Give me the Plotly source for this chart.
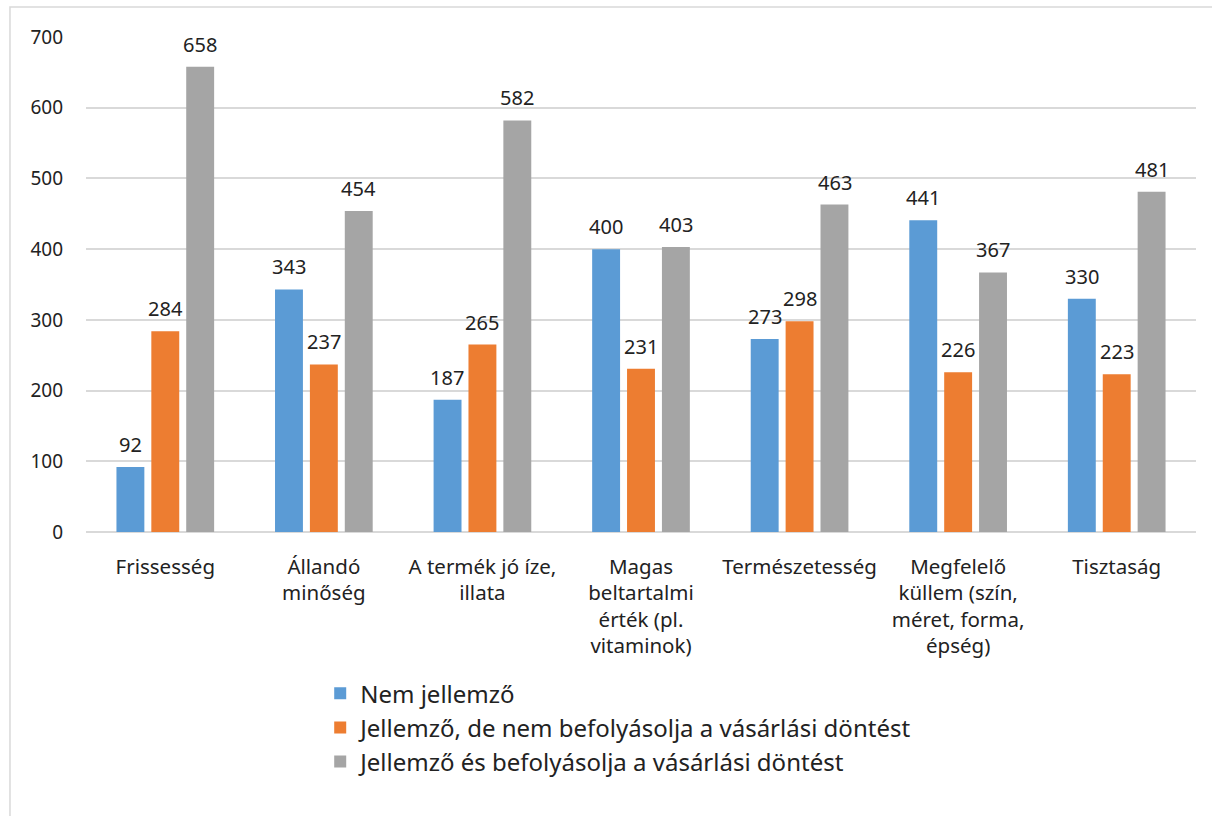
import plotly.graph_objects as go

kategoriak = [
    "Frissesség",
    "Állandó<br>minőség",
    "A termék jó íze,<br>illata",
    "Magas<br>beltartalmi<br>érték (pl.<br>vitaminok)",
    "Természetesség",
    "Megfelelő<br>küllem (szín,<br>méret, forma,<br>épség)",
    "Tisztaság",
]
nem_jellemzo = [92, 343, 187, 400, 273, 441, 330]
jellemzo_nem_befoly = [284, 237, 265, 231, 298, 226, 223]
jellemzo_befoly = [658, 454, 582, 403, 463, 367, 481]

sorozatok = [
    ("Nem jellemző", nem_jellemzo, "#5b9bd5"),
    ("Jellemző, de nem befolyásolja a vásárlási döntést", jellemzo_nem_befoly, "#ed7d31"),
    ("Jellemző és befolyásolja a vásárlási döntést", jellemzo_befoly, "#a5a5a5"),
]

fig = go.Figure()
cimkek = []
for i, (nev, ertekek, szin) in enumerate(sorozatok):
    fig.add_trace(go.Bar(
        x=kategoriak, y=ertekek, name=nev,
        marker_color=szin, marker_line_width=0,
    ))
    # adatcimkek az oszlopok folott
    for kat, ertek in zip(kategoriak, ertekek):
        cimkek.append(dict(
            x=kat, y=ertek, text=str(ertek), showarrow=False,
            xref="x", yref="y", yanchor="bottom",
            xshift=(i - 1) * 35, yshift=7,
            font=dict(size=20, color="#222222"),
        ))

fig.update_layout(
    width=1212, height=816,
    margin=dict(l=86, r=16, t=37, b=284),
    paper_bgcolor="white", plot_bgcolor="white",
    font=dict(family="Noto Sans, sans-serif", size=19, color="#222222"),
    barmode="group", bargap=0.34, bargroupgap=0.2,
    showlegend=True,
    legend=dict(
        orientation="v", x=0.211, y=-0.281, xanchor="left", yanchor="top",
        font=dict(size=24), tracegroupgap=0,
        bgcolor="rgba(0,0,0,0)",
    ),
    xaxis=dict(showgrid=False, showline=False, ticks="", tickangle=0,
               tickfont=dict(size=20.5), ticklabelstandoff=20),
    yaxis=dict(range=[0, 700], dtick=100, showgrid=True, gridcolor="#d9d9d9",
               gridwidth=1.5, zeroline=True, zerolinecolor="#d9d9d9",
               zerolinewidth=1.5, showline=False, ticks="",
               tickfont=dict(size=19), ticklabelstandoff=22),
    annotations=cimkek,
    shapes=[dict(type="rect", xref="paper", yref="paper",
                 x0=-0.0685, x1=1.1, y0=-1, y1=1.0606,
                 line=dict(color="#d9d9d9", width=1.5), layer="below")],
)

fig.write_html("out.html", config={"displayModeBar": False},
               post_script="document.body.style.margin='0';")
